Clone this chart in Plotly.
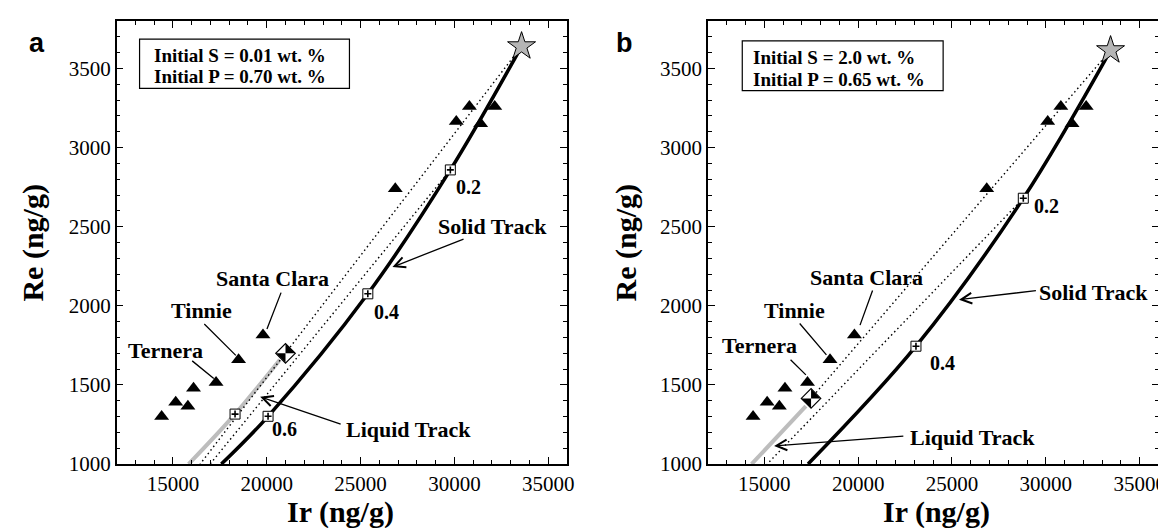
import plotly.graph_objects as go

# ---------------- data ----------------
# IVB iron meteorites (Ir, Re in ng/g)
tri_ir = [14400, 15150, 15800, 16100, 17300, 18500, 19800, 26850, 30100, 30800, 31400, 32150]
tri_re = [1300, 1390, 1365, 1480, 1515, 1660, 1815, 2740, 3165, 3260, 3150, 3260]

# panel a  (S = 0.01 wt.%, P = 0.70 wt.%)
star_a_ir, star_a_re = [33580], [3640]
solid_a_ir = [17580, 20071, 25387, 29784, 33580]
solid_a_re = [1000, 1302, 2076, 2859, 3640]
frac_a_ir = [29784, 25387, 20071]
frac_a_re = [2859, 2076, 1302]
frac_a_lbl = ["0.2", "0.4", "0.6"]
frac_a_lbl_ir = [30760, 26370, 20930]
frac_a_lbl_re = [2750, 1958, 1223]
liqsq_a_ir, liqsq_a_re = [18312], [1316]
gray_a_ir = [15835, 18312, 20700]
gray_a_re = [1000, 1316, 1660]
diam_a_ir, diam_a_re = [21000], [1700]
dot_a1_ir = [33580, 21000, 16450]
dot_a1_re = [3640, 1700, 1000]
dot_a2_ir = [29784, 16980]
dot_a2_re = [2859, 1000]

# panel b  (S = 2.0 wt.%, P = 0.65 wt.%)
star_b_ir, star_b_re = [33450], [3615]
solid_b_ir = [17330, 23080, 28800, 33450]
solid_b_re = [1000, 1745, 2680, 3615]
frac_b_ir = [28800, 23080]
frac_b_re = [2680, 1745]
frac_b_lbl = ["0.2", "0.4"]
frac_b_lbl_ir = [30050, 24480]
frac_b_lbl_re = [2630, 1637]
gray_b_ir = [14320, 17214]
gray_b_re = [1000, 1366]
diam_b_ir, diam_b_re = [17490], [1415]
dot_b1_ir = [33450, 17490]
dot_b1_re = [3615, 1415]
dot_b2_ir = [28800, 15150]
dot_b2_re = [2680, 1000]

x_ticks = [15000, 20000, 25000, 30000, 35000]
y_ticks = [1000, 1500, 2000, 2500, 3000, 3500]

# callouts: (text, text_x, text_y, tail_x, tail_y, head_x, head_y, arrow)
call_a = [
    ("Santa Clara", 20300, 2172, 20795, 2093, 20013, 1854, False),
    ("Tinnie", 16500, 1968, 16593, 1895, 18352, 1687, False),
    ("Ternera", 14600, 1718, 15948, 1660, 17179, 1541, False),
    ("Solid Track", 32050, 2499, 30567, 2426, 26700, 2245, True),
    ("Liquid Track", 27540, 1219, 24020, 1250, 19650, 1425, True),
]
call_b = [
    ("Santa Clara", 20440, 2181, 20796, 2107, 20099, 1878, False),
    ("Tinnie", 16620, 1972, 16816, 1898, 18308, 1690, False),
    ("Ternera", 14730, 1752, 16318, 1669, 17214, 1564, False),
    ("Solid Track", 32540, 2082, 29552, 2097, 25373, 2039, True),
    ("Liquid Track", 26070, 1167, 22487, 1178, 15522, 1115, True),
]
box_a = ["Initial S = 0.01 wt. %", "Initial P = 0.70 wt. %"]
box_b = ["Initial S = 2.0 wt. %", "Initial P = 0.65 wt. %"]

SERIF = "Liberation Serif"
SANS = "Liberation Sans"

fig = go.Figure()


def panel(xr, yr, star, solid, fr, gray, diam, dots, liqsq=None):
    fig.add_trace(go.Scatter(x=gray[0], y=gray[1], xaxis=xr, yaxis=yr, mode="lines",
                             line=dict(color="#bdbdbd", width=4, shape="spline"), hoverinfo="skip"))
    for dx, dy in dots:
        fig.add_trace(go.Scatter(x=dx, y=dy, xaxis=xr, yaxis=yr, mode="lines",
                                 line=dict(color="black", width=1.4, dash="1.5px,3px"), hoverinfo="skip"))
    fig.add_trace(go.Scatter(x=solid[0], y=solid[1], xaxis=xr, yaxis=yr, mode="lines",
                             line=dict(color="black", width=3.5, shape="spline"), hoverinfo="skip"))
    fig.add_trace(go.Scatter(x=tri_ir, y=tri_re, xaxis=xr, yaxis=yr, mode="markers",
                             marker=dict(symbol="triangle-up", size=13, color="black", line=dict(width=0))))
    sq_x = list(fr[0]) + (liqsq[0] if liqsq else [])
    sq_y = list(fr[1]) + (liqsq[1] if liqsq else [])
    fig.add_trace(go.Scatter(x=sq_x, y=sq_y, xaxis=xr, yaxis=yr, mode="markers",
                             marker=dict(symbol="square", size=10, color="white",
                                         line=dict(color="black", width=1))))
    fig.add_trace(go.Scatter(x=sq_x, y=sq_y, xaxis=xr, yaxis=yr, mode="markers",
                             marker=dict(symbol="cross-thin", size=5,
                                         line=dict(color="black", width=1.6))))
    fig.add_trace(go.Scatter(x=star[0], y=star[1], xaxis=xr, yaxis=yr, mode="markers",
                             marker=dict(symbol="star", size=21, color="#b5b5b5",
                                         line=dict(color="black", width=1))))
    fig.add_trace(go.Scatter(x=diam[0], y=diam[1], xaxis=xr, yaxis=yr, mode="markers",
                             marker=dict(symbol="diamond", size=15, color="white",
                                         line=dict(color="black", width=1.2))))
    R = 9.5
    for px in ("M0,0 L0,%g L%g,0 Z" % (R, R), "M0,0 L0,-%g L-%g,0 Z" % (R, R)):
        fig.add_shape(type="path", xref=xr, yref=yr, xsizemode="pixel", ysizemode="pixel",
                      xanchor=diam[0][0], yanchor=diam[1][0], path=px,
                      fillcolor="black", line=dict(width=0), layer="above")


panel("x", "y", (star_a_ir, star_a_re), (solid_a_ir, solid_a_re), (frac_a_ir, frac_a_re),
      (gray_a_ir, gray_a_re), (diam_a_ir, diam_a_re),
      [(dot_a1_ir, dot_a1_re), (dot_a2_ir, dot_a2_re)], (liqsq_a_ir, liqsq_a_re))
panel("x2", "y2", (star_b_ir, star_b_re), (solid_b_ir, solid_b_re), (frac_b_ir, frac_b_re),
      (gray_b_ir, gray_b_re), (diam_b_ir, diam_b_re),
      [(dot_b1_ir, dot_b1_re), (dot_b2_ir, dot_b2_re)])

ann = []
bold = dict(family=SERIF, size=22, color="black", weight="bold")
bold_small = dict(family=SERIF, size=20, color="black", weight="bold")


def callouts(xr, yr, calls, fl, fx, fy):
    for t, tx, ty, ax_, ay_, hx, hy, arrow in calls:
        ann.append(dict(xref=xr, yref=yr, x=tx, y=ty, text=t, showarrow=False, font=bold))
        ann.append(dict(xref=xr, yref=yr, x=hx, y=hy, ax=ax_, ay=ay_, axref=xr, ayref=yr,
                        text="", showarrow=True, arrowhead=5 if arrow else 0,
                        arrowsize=1.6, arrowwidth=1.3, arrowcolor="black", standoff=0))
    for t, x, y in zip(fl, fx, fy):
        ann.append(dict(xref=xr, yref=yr, x=x, y=y, text=t, showarrow=False, font=bold_small))


callouts("x", "y", call_a, frac_a_lbl, frac_a_lbl_ir, frac_a_lbl_re)
callouts("x2", "y2", call_b, frac_b_lbl, frac_b_lbl_ir, frac_b_lbl_re)

# info boxes
for xr, lines, (x0, x1, y0, y1), tx, (l1, l2) in [
    ("x", box_a, (0.051, 0.517, 0.848, 0.959), 0.079, (0.922, 0.874)),
    ("x2", box_b, (0.076, 0.522, 0.843, 0.955), 0.095, (0.918, 0.869)),
]:
    yr = "y" if xr == "x" else "y2"
    fig.add_shape(type="rect", xref=xr + " domain", yref=yr + " domain", x0=x0, x1=x1, y0=y0, y1=y1,
                  line=dict(color="black", width=1.2), fillcolor="white", layer="below")
    for t, yy in zip(lines, (l1, l2)):
        ann.append(dict(xref=xr + " domain", yref=yr + " domain", x=tx, y=yy, text=t, showarrow=False,
                        xanchor="left", yanchor="middle",
                        font=dict(family=SERIF, size=19, color="black", weight="bold")))

# axis titles & panel letters
title_font = dict(family=SERIF, size=30, color="black", weight="bold")
for x, y, t, ang in [(0.2873, 0.024, "Ir (ng/g)", 0), (0.801, 0.024, "Ir (ng/g)", 0),
                     (0.0214, 0.545, "Re (ng/g)", -90), (0.533, 0.545, "Re (ng/g)", -90)]:
    ann.append(dict(xref="paper", yref="paper", x=x, y=y, text=t, showarrow=False, textangle=ang,
                    font=title_font, xanchor="center", yanchor="middle"))
for x, t in [(0.0253, "a"), (0.532, "b")]:
    ann.append(dict(xref="paper", yref="paper", x=x, y=0.933, text=t, showarrow=False,
                    font=dict(family=SANS, size=27, color="black", weight="bold"),
                    xanchor="center", yanchor="middle"))

tickfont = dict(family=SERIF, size=21, color="black")
ax_common = dict(showline=True, linecolor="black", linewidth=1.5, mirror="allticks", ticks="inside",
                 ticklen=7, tickwidth=1.2, tickcolor="black", showgrid=False, zeroline=False,
                 tickfont=tickfont)
xa = dict(range=[12000, 36000], tickvals=x_ticks, ticktext=[str(v) for v in x_ticks],
          minor=dict(dtick=1000, tick0=0, ticks="inside", ticklen=4, tickcolor="black", tickwidth=1),
          **ax_common)
ya = dict(range=[1000, 3800], tickvals=y_ticks, ticktext=[str(v) for v in y_ticks],
          minor=dict(dtick=100, tick0=0, ticks="inside", ticklen=4, tickcolor="black", tickwidth=1),
          **ax_common)

fig.update_layout(
    width=1166, height=528, margin=dict(l=0, r=0, t=0, b=0),
    paper_bgcolor="white", plot_bgcolor="white", showlegend=False,
    xaxis=dict(domain=[0.0937, 0.4823], anchor="y", **xa),
    yaxis=dict(domain=[0.1161, 0.9748], anchor="x", **ya),
    xaxis2=dict(domain=[0.6040, 0.9926], anchor="y2", **xa),
    yaxis2=dict(domain=[0.1161, 0.9748], anchor="x2", **ya),
    annotations=ann,
)

fig.write_html("out.html")
